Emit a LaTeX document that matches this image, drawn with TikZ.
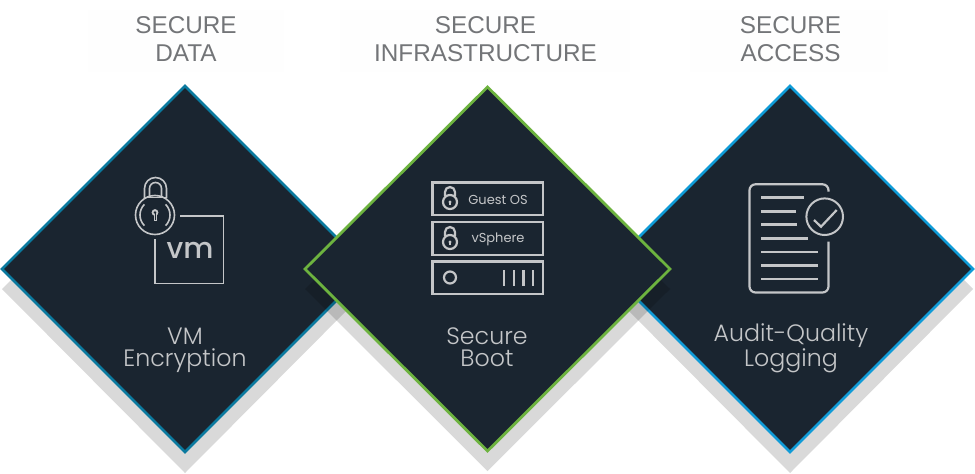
\documentclass[tikz,border=0pt]{standalone}
\usepackage{fontspec}
\setmainfont{Liberation Sans}
\newfontfamily\lightfont{Poppins Light}
\newfontfamily\regfont{Poppins}
\newfontfamily\medfont{Poppins Medium}
\definecolor{navy}{HTML}{1A2530}
\definecolor{tealb}{HTML}{0B7A9F}
\definecolor{skyb}{HTML}{0F9BD7}
\definecolor{leaf}{HTML}{6DB33F}
\definecolor{icon}{HTML}{C4C6C8}
\definecolor{titleg}{HTML}{737578}
\definecolor{faint}{HTML}{FEFEFE}
\tikzset{
  x=1pt,y=-1pt,
  diamondbox/.style={fill=navy,line width=2.8pt,line join=miter},
  shadowbox/.style={fill=black,fill opacity=.15,draw=none},
  heading/.style={text=titleg,font=\fontsize{24.3}{28.5}\selectfont,align=center,inner sep=0pt},
  caption/.style={text=icon,font=\lightfont\fontsize{23.7}{21.7}\selectfont,align=center,inner sep=0pt,anchor=base},
  small/.style={text=icon,font=\regfont\fontsize{13}{14}\selectfont,inner sep=0pt},
  glyph/.style={draw=icon,line width=1.6pt},
  thickglyph/.style={draw=icon,line width=2.2pt},
}
\newcommand{\padlock}[2]{% centre of body
  \draw[thickglyph] (#1,#2) circle (7);
  \draw[thickglyph] (#1-5,#2-6) -- (#1-5,#2-10) arc (180:360:5) -- (#1+5,#2-6);
  \fill[icon] (#1,#2) circle (1.6);
  \draw[icon,line width=1.3pt] (#1,#2) -- (#1,#2+3.2);
}
\begin{document}
\begin{tikzpicture}
\useasboundingbox (0,0) rectangle (975,474);
% faint panels behind the headings
\fill[faint] (88,10) rectangle (284,72);
\fill[faint] (340,10) rectangle (630,72);
\fill[faint] (690,10) rectangle (888,72);
% shadows
\fill[shadowbox] (185,106) -- (368,289) -- (185,473) -- (2,289) -- cycle;
\fill[shadowbox] (790,106) -- (973,289) -- (790,473) -- (607,289) -- cycle;
% outer diamonds
\filldraw[diamondbox,draw=tealb] (185,86) -- (368,269) -- (185,452) -- (2,269) -- cycle;
\filldraw[diamondbox,draw=skyb] (790,86) -- (973,269) -- (790,452) -- (607,269) -- cycle;
% middle
\fill[shadowbox] (487.5,107) -- (670,289) -- (487.5,471) -- (305,289) -- cycle;
\filldraw[diamondbox,draw=leaf] (487.5,87) -- (670,269) -- (487.5,451) -- (305,269) -- cycle;
% headings
\node[heading] (h1) at (186,39) {SECURE\\DATA};
\node[heading] (h2) at (485.5,39) {SECURE\\INFRASTRUCTURE};
\node[heading] (h3) at (790.5,39) {SECURE\\ACCESS};
% captions
\node[caption] (c1) at (185,366.5) {VM\\Encryption};
\node[caption] (c2) at (487,366.5) {Secure\\Boot};
\node[caption] (c3) at (791,366.5) {Audit-Quality\\Logging};
% VM icon
\draw[glyph] (180,216) -- (223.5,216) -- (223.5,283.5) -- (155,283.5) -- (155,239);
\node[inner sep=0pt,anchor=base,text=icon,font=\medfont\fontsize{29}{29}\selectfont] (vm) at (190,258) {vm};
\draw[glyph] (155,215) circle (19.5);
\draw[glyph] (144.5,198) -- (144.5,188.5) arc (180:360:11) -- (166.5,198);
\draw[glyph] (149.5,197) -- (149.5,188.5) arc (180:360:6) -- (161.5,197);
\draw[glyph] (144.5,197.5) -- (166.5,197.5);
% inner rings of the lock
\draw[glyph] (155,215) ++(135:15) arc (135:225:15);
\draw[glyph] (155,215) ++(-45:15) arc (-45:45:15);
\fill[icon] (155,212.5) circle (3.4);
\draw[icon,line width=3pt] (155,212.5) -- (155,221);
\fill[navy] (155,212.5) circle (1.4);
\draw[navy,line width=1pt] (155,212.5) -- (155,219.5);
% server icon
\draw[thickglyph] (432.5,182.5) rectangle (543,215);
\draw[thickglyph] (432.5,222) rectangle (543,255);
\draw[thickglyph] (432.5,261.5) rectangle (543,294);
\padlock{450}{202}
\padlock{450}{242}
\node[small] (g) at (498,200) {Guest OS};
\node[small] (v) at (498,239) {vSphere};
\draw[thickglyph] (450,277.5) circle (6);
\foreach \xx in {504.3,514,523.5,533}
  \draw[thickglyph] (\xx,270) -- (\xx,286);
% document icon
\draw[thickglyph,rounded corners=6] (828.5,191.7) |- (749.5,184.3) |- (828.5,292.5) -- (828.5,241.7);
\draw[glyph,line width=2pt] (824.7,216.7) circle (18.3);
\draw[glyph,line width=2.2pt] (814,220) -- (821,226.7) -- (836.7,210);
\foreach \yy/\xe in {197.7/804,211.3/796,224.7/797,238.3/808,252/818,265.7/818,279/818}
  \draw[thickglyph,line width=2.6pt] (761,\yy) -- (\xe,\yy);
\end{tikzpicture}
\end{document}
